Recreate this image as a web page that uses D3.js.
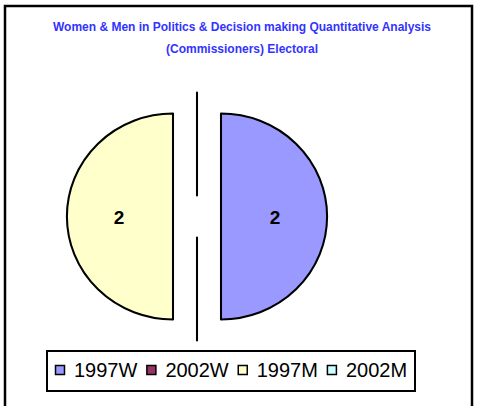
<!DOCTYPE html>
<html><head><meta charset="utf-8">
<script src="https://cdn.jsdelivr.net/npm/d3@7"></script>
<style>html,body{margin:0;padding:0;background:#fff;overflow:hidden}</style>
</head><body>
<svg id="c" width="477" height="406"></svg>
<script>
const titleLines = ["Women & Men in Politics & Decision making Quantitative Analysis", "(Commissioners) Electoral"];
const categories = ["1997W", "2002W", "1997M", "2002M"];
const values = [2, 0, 2, 0];
const colors = ["#9999FF", "#993366", "#FFFFCC", "#CCFFFF"];

const svg = d3.select("#c");
svg.append("rect").attr("x", 5).attr("y", 6).attr("width", 467).attr("height", 420)
  .attr("fill", "#fff").attr("stroke", "#000").attr("stroke-width", 2.5);

svg.selectAll("text.title").data(titleLines).enter().append("text")
  .attr("class", "title")
  .attr("x", 242).attr("y", (d, i) => 31 + i * 22)
  .attr("text-anchor", "middle")
  .attr("font-family", "Arial, 'Liberation Sans', sans-serif")
  .attr("font-weight", "bold").attr("font-size", 12)
  .attr("fill", "#3333FF")
  .text(d => d);

const cx = 197, cy = 216.5, r = 103;
const data = categories.map((c, i) => ({cat: c, value: values[i], color: colors[i]}));
const pie = d3.pie().value(d => d.value).sort(null).startAngle(0).endAngle(2 * Math.PI);
const arcs = pie(data);
const arc = d3.arc().innerRadius(0).outerRadius(r);
const g = svg.append("g").attr("transform", `translate(${cx},${cy})`);

const slices = g.selectAll("g.slice").data(arcs).enter().append("g")
  .attr("class", "slice")
  .attr("transform", d => {
    const m = (d.startAngle + d.endAngle) / 2;
    return `translate(${Math.sin(m) * 24},${-Math.cos(m) * 21})`;
  });
slices.append("path")
  .attr("d", arc)
  .attr("transform", "scale(1.03,1)")
  .attr("fill", d => d.data.color)
  .attr("stroke", "#000").attr("stroke-width", 2)
  .attr("stroke-linejoin", "round");
slices.filter(d => d.value > 0).append("text")
  .attr("transform", d => {
    const m = (d.startAngle + d.endAngle) / 2;
    return `translate(${Math.sin(m) * 54},${-Math.cos(m) * 54 + 1})`;
  })
  .attr("text-anchor", "middle").attr("dominant-baseline", "central")
  .attr("font-family", "Arial, 'Liberation Sans', sans-serif")
  .attr("font-weight", "bold").attr("font-size", 19)
  .text(d => d.value);

// Legend
const lg = svg.append("g");
lg.append("rect").attr("x", 47).attr("y", 351).attr("width", 368).attr("height", 40)
  .attr("fill", "#fff").attr("stroke", "#000").attr("stroke-width", 2);
let lx = 55;
categories.forEach((c, i) => {
  lg.append("rect").attr("x", lx + 0.5).attr("y", 365.5).attr("width", 9).attr("height", 9)
    .attr("fill", colors[i]).attr("stroke", "#000").attr("stroke-width", 1.5);
  const t = lg.append("text").attr("x", lx + 19).attr("y", 377)
    .attr("font-family", "Arial, 'Liberation Sans', sans-serif")
    .attr("font-size", 20).attr("fill", "#000").text(c);
  lx = lx + 19 + t.node().getComputedTextLength() + 9;
});
</script>
</body></html>
